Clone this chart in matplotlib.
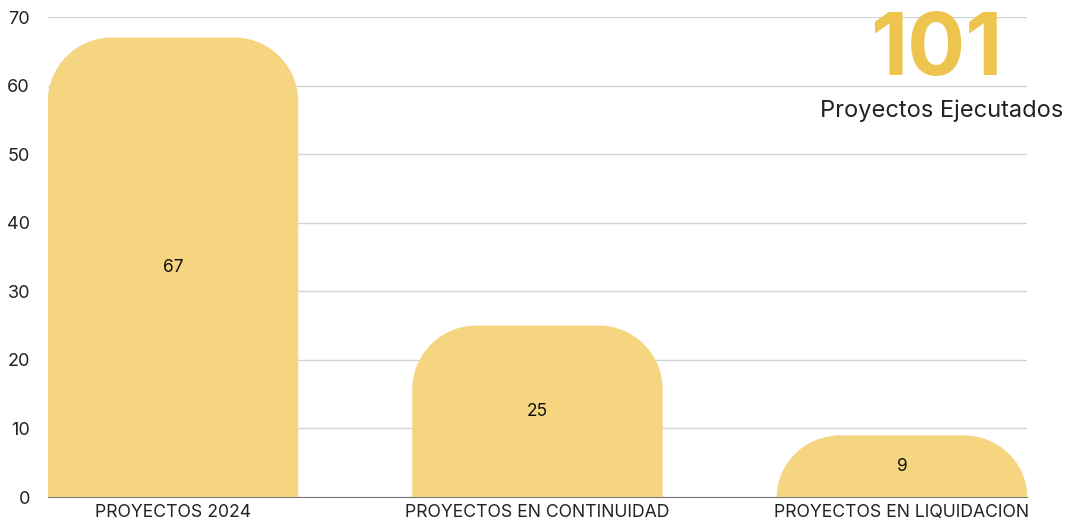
import matplotlib.pyplot as plt
from matplotlib.path import Path
from matplotlib.patches import PathPatch

categories = ["PROYECTOS 2024", "PROYECTOS EN CONTINUIDAD", "PROYECTOS EN LIQUIDACION"]
values = [67, 25, 9]
total = 101
total_label = "Proyectos Ejecutados"
y_ticks = [0, 10, 20, 30, 40, 50, 60, 70]

BAR_COLOR = "#F6D580"
TOTAL_COLOR = "#EDC54E"
FONT = ["Inter", "DejaVu Sans"]

plt.rcParams['font.family'] = FONT

fig = plt.figure(figsize=(10.66, 5.24), dpi=100)
ax = fig.add_axes([48 / 1066, 27 / 524, 979 / 1066, 480 / 524])

ax.set_xlim(-0.343, 2.343)
ax.set_ylim(0, 70)
ax.set_yticks(y_ticks)
ax.set_xticks(range(len(categories)))
ax.set_xticklabels(categories, fontsize=12.7, color="#222222")
ax.tick_params(axis="y", length=0, labelsize=13, pad=13, colors="#222222")
ax.tick_params(axis="x", length=0, pad=5)
ax.grid(axis="y", color="#d4d4d4", linewidth=1)
ax.set_axisbelow(True)
for side in ["left", "right", "top"]:
    ax.spines[side].set_visible(False)
ax.spines["bottom"].set_color("#777777")
ax.spines["bottom"].set_zorder(0.5)

fig.canvas.draw()
# pixel scale of data units, used to keep the corner radius round on screen
x0, y0 = ax.transData.transform((0, 0))
x1, y1 = ax.transData.transform((1, 1))
px_x = x1 - x0
px_y = y1 - y0

bar_w = 0.687
radius_px = 64
k = 0.5523


def rounded_top_bar(xc, h):
    left = xc - bar_w / 2
    right = xc + bar_w / 2
    rx = radius_px / px_x
    ry = min(radius_px / px_y, h)
    verts = [
        (left, 0),
        (left, h - ry),
        (left, h - ry + k * ry), (left + rx - k * rx, h), (left + rx, h),
        (right - rx, h),
        (right - rx + k * rx, h), (right, h - ry + k * ry), (right, h - ry),
        (right, 0),
        (left, 0),
    ]
    codes = [Path.MOVETO, Path.LINETO,
             Path.CURVE4, Path.CURVE4, Path.CURVE4,
             Path.LINETO,
             Path.CURVE4, Path.CURVE4, Path.CURVE4,
             Path.LINETO, Path.CLOSEPOLY]
    return PathPatch(Path(verts, codes), facecolor=BAR_COLOR, edgecolor="none", zorder=2)


for i, v in enumerate(values):
    ax.add_patch(rounded_top_bar(i, v))
    ax.text(i, v / 2, str(v), ha="center", va="center", fontsize=12.5, color="#111111", zorder=3)

fig.text(936 / 1066, 1 - 52 / 524, str(total), ha="center", va="center",
         fontsize=62, fontweight="bold", color=TOTAL_COLOR)
fig.text(1063 / 1066, 1 - 111 / 524, total_label, ha="right", va="center",
         fontsize=17, color="#222222")

fig.savefig("out.png", dpi=100)
